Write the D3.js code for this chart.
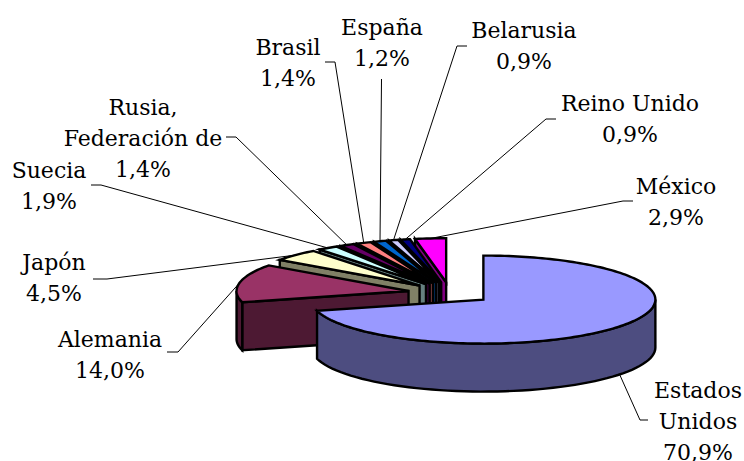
<!DOCTYPE html>
<html><head><meta charset="utf-8">
<script src="https://cdn.jsdelivr.net/npm/d3@7"></script>
<style>html,body{margin:0;background:#fff}svg{display:block}text{font-family:"DejaVu Serif";font-size:22px;fill:#000;text-anchor:middle}</style>
</head><body><svg id="c" width="744" height="461"></svg>
<script>
const categories=["Estados Unidos","Alemania","Japón","Suecia","Rusia, Federación de","Brasil","España","Belarusia","Reino Unido","México"];
const values=[70.9,14.0,4.5,1.9,1.4,1.4,1.2,0.9,0.9,2.9];
const valueLabels=["70,9%","14,0%","4,5%","1,9%","1,4%","1,4%","1,2%","0,9%","0,9%","2,9%"];
const topColors=["#9999FF","#993366","#FFFFCC","#CCFFFF","#660066","#FF8080","#0066CC","#CCCCFF","#000080","#FF00FF"];
const sideColors=["#4D4D80","#4D1933","#808066","#668080","#330033","#804040","#003366","#666680","#000040","#800080"];
const labelLines=[["Estados","Unidos"],["Alemania"],["Japón"],["Suecia"],["Rusia,","Federación de"],["Brasil"],["España"],["Belarusia"],["Reino Unido"],["México"]];
const labelX=[698,110,54,49,143,288,382,524,630,676];
const labelY=[398,347,270,178,115,55,35,38,111,194];
const leaderFrom=[[648,420],[167,352],[93,279],[91,185],[226,137],[325,62],[381.5,79],[467,46],[556,119],[633,201]];
const leaderElbow=[[640,420],[178,352],[107,279],[101,185],[236,137],[335,62],[381.5,79],[457,46],[546,119],[623,201]];

const svg=d3.select("#c");
const cx=450,cy=293,rx=172,ry=44,depth=48,explode=0.245;
const sx=d3.scaleLinear().domain([-1,1]).range([cx-rx,cx+rx]);
const sy=d3.scaleLinear().domain([-1,1]).range([cy-ry,cy+ry]);
const arcs=d3.pie().sort(null).startAngle(0).endAngle(2*Math.PI)(values);
const line=d3.line();
const drawn=arcs.map(a=>{
  const mid=(a.startAngle+a.endAngle)/2;
  const ox=explode*Math.sin(mid), oy=-explode*Math.cos(mid);
  const pt=(ang,r=1)=>[sx(ox+r*Math.sin(ang)),sy(oy-r*Math.cos(ang))];
  return {a,mid,pt};
});
const style=(s)=>s.attr("stroke","#000").attr("stroke-width",2.4).attr("stroke-linejoin","miter");
const g=svg.append("g");
d3.range(values.length-1,-1,-1).forEach(i=>{
  const {a,pt}=drawn[i];
  const down=p=>[p[0],p[1]+depth];
  const apex=pt(0,0),s=pt(a.startAngle);
  if(a.startAngle>Math.PI){
    style(g.append("path")).attr("fill",sideColors[i]).attr("d",line([apex,s,down(s),down(apex)])+"Z");
  }
  const lo=Math.max(a.startAngle,Math.PI/2),hi=Math.min(a.endAngle,3*Math.PI/2);
  if(hi>lo){
    const rim=d3.range(0,61).map(k=>pt(lo+(hi-lo)*k/60));
    style(g.append("path")).attr("fill",sideColors[i]).attr("d",line(rim.concat(rim.slice().reverse().map(down)))+"Z");
  }
  const n=Math.max(6,Math.ceil((a.endAngle-a.startAngle)*40));
  const top=d3.range(0,n+1).map(k=>pt(a.startAngle+(a.endAngle-a.startAngle)*k/n));
  style(g.append("path")).attr("fill",topColors[i]).attr("d",line([apex].concat(top))+"Z");
});
const rimTargets=drawn.map(({mid,pt},i)=>{
  const p=pt(mid,1);
  return i===0?[p[0],p[1]+depth]:p;
});
categories.forEach((c,i)=>{
  svg.append("path").attr("fill","none").attr("stroke","#000").attr("stroke-width",1)
    .attr("d",line([leaderFrom[i],leaderElbow[i],rimTargets[i]]));
});
categories.forEach((c,i)=>{
  const lines=labelLines[i].concat([valueLabels[i]]);
  const t=svg.append("text").attr("x",labelX[i]).attr("y",labelY[i]);
  lines.forEach((l,k)=>t.append("tspan").attr("x",labelX[i]).attr("y",labelY[i]+k*31).text(l));
});
</script></body></html>
